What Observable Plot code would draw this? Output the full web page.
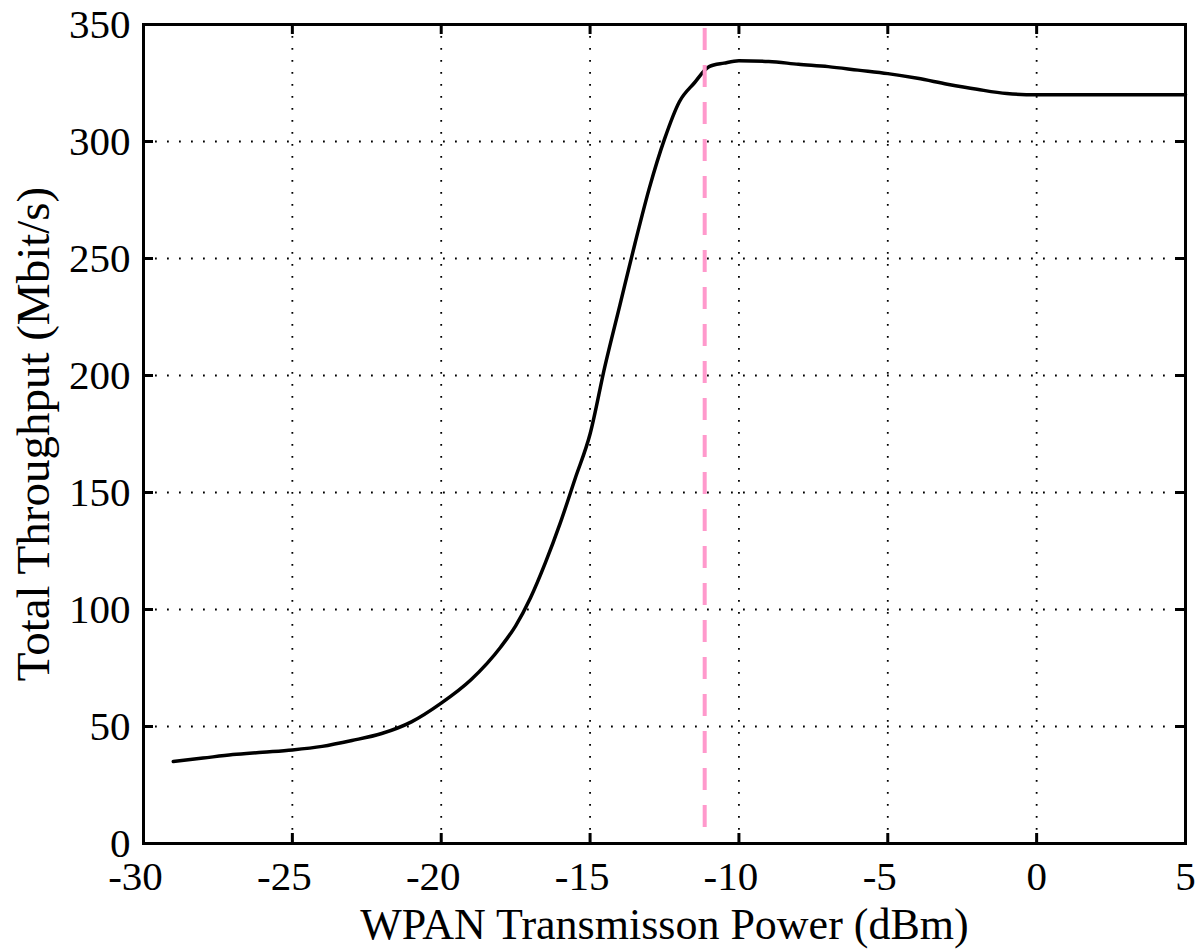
<!DOCTYPE html>
<html>
<head>
<meta charset="utf-8">
<script src="https://cdn.jsdelivr.net/npm/d3@7"></script>
<script src="https://cdn.jsdelivr.net/npm/@observablehq/plot@0.6"></script>
<style>
  html, body { margin: 0; padding: 0; background: #ffffff; }
  #chart svg { display: block; }
</style>
</head>
<body>
<div id="chart"></div>
<script>
// WPAN transmission power (dBm)
const powerDbm = [-29, -28, -27, -26, -25, -24, -23, -22, -21, -20, -19, -18, -17.5, -17, -16.5, -16, -15.5, -15, -14.5, -14, -13.5, -13, -12.5, -12, -11.5, -11, -10.5, -10, -9, -8, -7, -6, -5, -4, -3, -2, -1, 0, 1, 2, 3, 4, 5];
// Total throughput (Mbit/s)
const throughput = [35, 36.5, 38, 39, 40, 41.5, 44, 47, 52, 60, 70, 84, 93, 105, 120, 137, 156, 175, 204, 230, 256, 280.5, 301, 317, 325, 332, 333.5, 334.5, 334.2, 333, 332, 330.5, 329, 327, 324.5, 322.3, 320.5, 320, 320, 320, 320, 320, 320];
// Marked optimum power
const markerPower = [-11.15];
// Tick values
const xTicks = [-30, -25, -20, -15, -10, -5, 0, 5];
const yTicks = [0, 50, 100, 150, 200, 250, 300, 350];
const xLabel = "WPAN Transmisson Power (dBm)";
const yLabel = "Total Throughput (Mbit/s)";

const data = powerDbm.map((p, i) => ({p, t: throughput[i]}));
const xInner = xTicks.slice(1, -1);
const yInner = yTicks.slice(1, -1);

const W = 1197, H = 949, mL = 143, mR = 12, mT = 24, mB = 106;
const plotW = W - mL - mR, plotH = H - mT - mB;
const tickLen = 10;
const font = "'Liberation Serif', 'Times New Roman', serif";

const chart = Plot.plot({
  width: W,
  height: H,
  marginLeft: mL,
  marginRight: mR,
  marginTop: mT,
  marginBottom: mB,
  style: {fontFamily: font, background: "#ffffff", color: "#000000"},
  x: {domain: [-30, 5], axis: null},
  y: {domain: [0, 350], axis: null},
  marks: [
    // dotted grid
    Plot.ruleX(xInner, {x: d => d, stroke: "#000", strokeWidth: 1.8, strokeDasharray: "1.8,10.2"}),
    Plot.ruleY(yInner, {y: d => d, stroke: "#000", strokeWidth: 1.8, strokeDasharray: "1.8,10.2"}),
    // curve
    Plot.line(data, {x: "p", y: "t", stroke: "#000", strokeWidth: 3.5, curve: "monotone-x"}),
    // pink dashed marker
    Plot.ruleX(markerPower, {x: d => d, stroke: "#ff99cc", strokeWidth: 4, strokeDasharray: "22,15", strokeDashoffset: 33}),
    // frame
    Plot.frame({stroke: "#000", strokeWidth: 3}),
    // inward ticks
    Plot.ruleX(xInner, {x: d => d, insetTop: plotH - tickLen, stroke: "#000", strokeWidth: 3}),
    Plot.ruleX(xInner, {x: d => d, insetBottom: plotH - tickLen, stroke: "#000", strokeWidth: 3}),
    Plot.ruleY(yInner, {y: d => d, insetRight: plotW - tickLen, stroke: "#000", strokeWidth: 3}),
    Plot.ruleY(yInner, {y: d => d, insetLeft: plotW - tickLen, stroke: "#000", strokeWidth: 3}),
    // tick labels
    Plot.text(xTicks.filter(d => d < 0), {x: d => d, text: d => String(d), frameAnchor: "bottom", lineAnchor: "middle", dy: 33, dx: -8, fontSize: 41, fill: "#000"}),
    Plot.text(xTicks.filter(d => d >= 0), {x: d => d, text: d => String(d), frameAnchor: "bottom", lineAnchor: "middle", dy: 33, fontSize: 41, fill: "#000"}),
    Plot.text(yTicks, {y: d => d, text: d => String(d), frameAnchor: "left", textAnchor: "end", lineAnchor: "middle", dx: -13, fontSize: 41, fill: "#000"}),
    // axis labels
    Plot.text([xLabel], {text: d => d, frameAnchor: "bottom", textAnchor: "middle", lineAnchor: "middle", dy: 81, fontSize: 44, fill: "#000"}),
    Plot.text([yLabel], {text: d => d, frameAnchor: "left", textAnchor: "middle", lineAnchor: "middle", dx: -110, rotate: -90, fontSize: 47, fill: "#000"})
  ]
});
document.getElementById("chart").appendChild(chart);
</script>
</body>
</html>
